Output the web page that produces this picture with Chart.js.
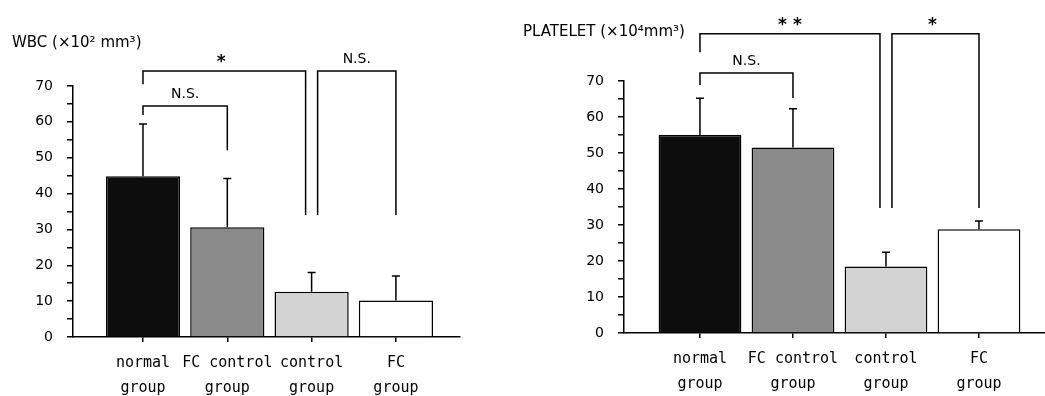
<!DOCTYPE html>
<html>
<head>
<meta charset="utf-8">
<script src="https://cdn.jsdelivr.net/npm/chart.js@4.4.0/dist/chart.umd.min.js"></script>
<style>
  body { margin: 0; background: #fff; width: 1045px; height: 396px; position: relative; overflow: hidden; }
  .box { position: absolute; top: 0; height: 396px; }
  #wbcBox { left: 0; width: 470px; }
  #pltBox { left: 520px; width: 525px; }
</style>
</head>
<body>
<div class="box" id="wbcBox"><canvas id="wbc" width="470" height="396"></canvas></div>
<div class="box" id="pltBox"><canvas id="plt" width="525" height="396"></canvas></div>
<script>
// data
const groups = [['normal', 'group'], ['FC control', 'group'], ['control', 'group'], ['FC', 'group']];
const wbcMean = [44.8, 30.6, 12.6, 10.2];
const wbcSD = [14.6, 13.6, 5.4, 6.8];
const pltMean = [55.0, 51.5, 18.5, 28.8];
const pltSD = [10.2, 10.8, 3.9, 2.3];
const yTickStep = 10;
const yMax = 70;

// significance brackets: [from group, to group, bar height, leg end at from, leg end at to, label]
const wbcBrackets = [
    [0, 1, 64.4, 61.9, 52.1, 'N.S.'],
    [0, 2, 74.2, 70.5, 34.0, '*'],
    [2, 3, 74.2, 34.0, 34.0, 'N.S.']
];
const pltBrackets = [
    [0, 1, 72.2, 68.9, 65.3, 'N.S.'],
    [0, 2, 83.1, 78.0, 34.7, '**'],
    [2, 3, 83.1, 34.7, 34.7, '*']
];

const barColors = ['#0d0d0d', '#8a8a8a', '#d3d3d3', '#ffffff'];
const LEG_GAP = 6;

function extrasPlugin(mean, sd, brackets, title, titleX, titleY, capW) {
    return {
        id: 'extras',
        afterDatasetsDraw(chart) {
            const ctx = chart.ctx;
            const x = chart.scales.x, y = chart.scales.y;
            ctx.save();
            ctx.strokeStyle = '#000';
            ctx.fillStyle = '#000';
            ctx.lineWidth = 1.5;

            // error bars (upper only)
            mean.forEach((m, i) => {
                const px = x.getPixelForValue(i);
                const y0 = y.getPixelForValue(m);
                const y1 = y.getPixelForValue(m + sd[i]);
                ctx.beginPath();
                ctx.moveTo(px, y0);
                ctx.lineTo(px, y1);
                ctx.moveTo(px - capW / 2, y1);
                ctx.lineTo(px + capW / 2, y1);
                ctx.stroke();
            });

            // brackets
            ctx.textAlign = 'center';
            ctx.textBaseline = 'alphabetic';
            brackets.forEach(b => {
                const [from, to, top, legA, legB, text] = b;
                let xa = x.getPixelForValue(from);
                let xb = x.getPixelForValue(to);
                if (brackets.some(o => o !== b && o[0] === to)) xb -= LEG_GAP;
                if (brackets.some(o => o !== b && o[1] === from)) xa += LEG_GAP;
                const yt = y.getPixelForValue(top);
                ctx.beginPath();
                ctx.moveTo(xa, y.getPixelForValue(legA));
                ctx.lineTo(xa, yt);
                ctx.lineTo(xb, yt);
                ctx.lineTo(xb, y.getPixelForValue(legB));
                ctx.stroke();
                if (text.startsWith('*')) {
                    ctx.font = 'bold 17px "DejaVu Sans"';
                    ctx.letterSpacing = '6px';
                    ctx.fillText(text, (xa + xb) / 2 + 3 * (text.length - 1), yt - 4);
                } else {
                    ctx.font = '14px "DejaVu Sans"';
                    ctx.letterSpacing = '0px';
                    ctx.fillText(text, (xa + xb) / 2, yt - 8);
                }
            });

            // axis title
            ctx.font = '15px "DejaVu Sans"';
            ctx.letterSpacing = '0px';
            ctx.textAlign = 'left';
            ctx.textBaseline = 'middle';
            ctx.fillText(title, titleX, titleY);
            ctx.restore();
        }
    };
}

function makeChart(id, cfg) {
    const { mean, sd, brackets, title, titleX, titleY, xMin, xMax, barPct, capW, area } = cfg;
    const canvas = document.getElementById(id);
    return new Chart(canvas.getContext('2d'), {
        type: 'bar',
        data: {
            datasets: [{
                data: mean.map((v, i) => ({ x: i, y: v })),
                backgroundColor: barColors,
                borderColor: '#000',
                borderWidth: 1.5,
                categoryPercentage: 1,
                barPercentage: barPct
            }]
        },
        options: {
            responsive: false,
            animation: false,
            layout: { padding: { left: 0, top: area.top, right: canvas.width - area.right, bottom: 0 } },
            plugins: { legend: { display: false }, tooltip: { enabled: false } },
            scales: {
                x: {
                    type: 'linear',
                    min: xMin,
                    max: xMax,
                    offset: false,
                    afterBuildTicks: s => { s.ticks = groups.map((g, i) => ({ value: i })); },
                    afterFit: s => { s.height = canvas.height - area.bottom; },
                    ticks: {
                        callback: v => groups[v],
                        color: '#000',
                        font: { family: 'DejaVu Sans Mono', size: 15, lineHeight: 1.7 },
                        padding: 8,
                        maxRotation: 0,
                        autoSkip: false
                    },
                    grid: { offset: false, drawOnChartArea: false, color: '#000', tickLength: 5, lineWidth: 1.5 },
                    border: { color: '#000', width: 1.5 }
                },
                y: {
                    min: 0,
                    max: yMax,
                    afterFit: s => { s.width = area.left; },
                    ticks: {
                        stepSize: yTickStep / 2,
                        autoSkip: false,
                        callback: v => (v % yTickStep === 0 ? v : ''),
                        color: '#000',
                        font: { family: 'DejaVu Sans', size: 14 },
                        padding: 14
                    },
                    grid: { drawOnChartArea: false, color: '#000', tickLength: 6, lineWidth: 1.5 },
                    border: { color: '#000', width: 1.5 }
                }
            }
        },
        plugins: [extrasPlugin(mean, sd, brackets, title, titleX, titleY, capW)]
    });
}

window.onload = () => {
    makeChart('wbc', {
        mean: wbcMean, sd: wbcSD, brackets: wbcBrackets,
        title: 'WBC (×10² mm³)', titleX: 12, titleY: 43,
        xMin: -0.83, xMax: 3.76, barPct: 0.88, capW: 8,
        area: { left: 73, right: 460, top: 86, bottom: 337 }
    });
    makeChart('plt', {
        mean: pltMean, sd: pltSD, brackets: pltBrackets,
        title: 'PLATELET (×10⁴mm³)', titleX: 3, titleY: 32,
        xMin: -0.817, xMax: 3.71, barPct: 0.89, capW: 8,
        area: { left: 104, right: 525, top: 81, bottom: 333 }
    });
};
</script>
</body>
</html>
